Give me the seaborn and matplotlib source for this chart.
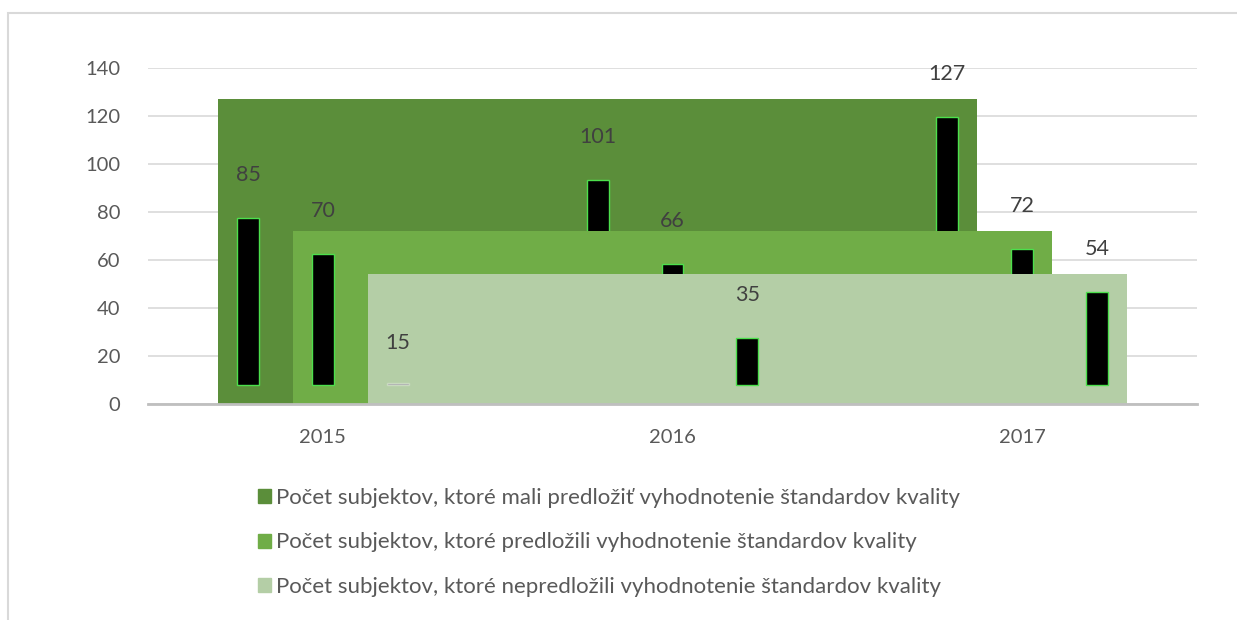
import matplotlib
matplotlib.use("Agg")
import matplotlib.pyplot as plt
import matplotlib.patches as mpatches
import numpy as np
import seaborn as sns

# Data
years = ["2015", "2016", "2017"]
series_names = [
    "Počet subjektov, ktoré mali predložiť vyhodnotenie štandardov kvality",
    "Počet subjektov, ktoré predložili vyhodnotenie štandardov kvality",
    "Počet subjektov, ktoré nepredložili vyhodnotenie štandardov kvality",
]
mali_predlozit = [85, 101, 127]
predlozili = [70, 66, 72]
nepredlozili = [15, 35, 54]

colors = ["#5B8E3A", "#70AD47", "#B4CEA6"]

sns.set_theme(style="white")
plt.rcParams["font.family"] = ["Lato", "DejaVu Sans"]

fig = plt.figure(figsize=(12.37, 6.2), dpi=100)
ax = fig.add_axes([148 / 1237, 1 - 404 / 620, (1197 - 148) / 1237, (404 - 68) / 620])

series = [mali_predlozit, predlozili, nepredlozili]
x = np.arange(len(years))
slot = 0.214
offsets = [-slot, 0, slot]
half = 0.086

# each series: a big block (as the renderer drew it), then its thin columns on top,
# so later series' blocks cover earlier columns
for k, (vals, off, col) in enumerate(zip(series, offsets, colors)):
    z = 2 + 2 * k
    left = x[0] + off - half
    right = x[-1] + off + half
    ax.bar(left, max(vals), width=right - left, align="edge",
           color=col, zorder=z, linewidth=0)
    for xi, v in zip(x, vals):
        h = max(v - 15.5, 0.6)
        small = v <= 20
        ax.bar(xi + off, h, bottom=8, width=0.062,
               color="#A6A0AE" if small else "black",
               edgecolor="#C9D9C0" if small else "#4CE04C",
               linewidth=1.0, zorder=z + 1)
        ax.annotate(str(v), (xi + off, v), xytext=(0, 18),
                    textcoords="offset points", ha="center", va="center",
                    fontsize=15.5, color="#404040", zorder=z + 1)

ax.set_xlim(-0.5, 2.5)
ax.set_ylim(0, 140)
ax.set_yticks(range(0, 141, 20))
ax.set_xticks(x)
ax.set_xticklabels(years)
ax.yaxis.grid(True, color="#D9D9D9", linewidth=1.2, zorder=0)
ax.set_axisbelow(True)
for s in ["top", "right", "left"]:
    ax.spines[s].set_visible(False)
ax.spines["bottom"].set_color("#BFBFBF")
ax.spines["bottom"].set_linewidth(2)
ax.spines["bottom"].set_zorder(10)
ax.tick_params(axis="both", length=0, labelsize=14.5, labelcolor="#595959", pad=20)
ax.tick_params(axis="x", pad=18)

handles = [mpatches.Patch(color=c, label=n) for c, n in zip(colors, series_names)]
fig.legend(handles=handles, loc="upper left", bbox_to_anchor=(238 / 1237, 1 - 468 / 620),
           frameon=False, fontsize=16, labelcolor="#595959", handlelength=0.6,
           handleheight=0.6, handletextpad=0.2, labelspacing=1.1)

# outer chart frame (only left and top edges are inside the image)
fig.patches.append(mpatches.Rectangle((8 / 1237, -0.1), 1.2, 1 - 13 / 620 + 0.1,
                                      transform=fig.transFigure, fill=False,
                                      edgecolor="#D9D9D9", linewidth=1.5))

fig.savefig("out.png", dpi=100)
